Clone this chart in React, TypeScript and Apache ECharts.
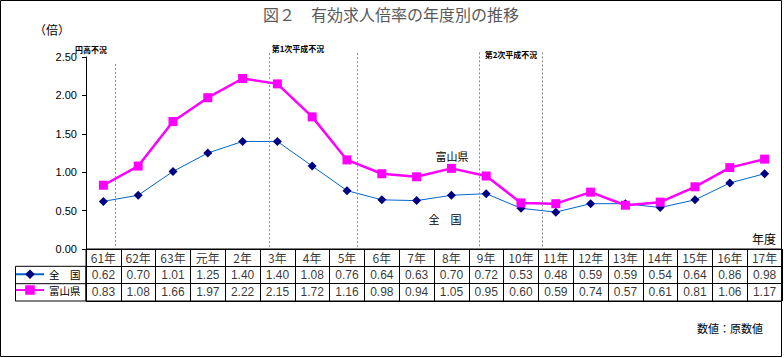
import React, { useEffect, useRef } from 'react';
import * as echarts from 'echarts';

const categories = ['61年', '62年', '63年', '元年', '2年', '3年', '4年', '5年', '6年', '7年', '8年', '9年', '10年', '11年', '12年', '13年', '14年', '15年', '16年', '17年'];
const zenkoku = [0.62, 0.70, 1.01, 1.25, 1.40, 1.40, 1.08, 0.76, 0.64, 0.63, 0.70, 0.72, 0.53, 0.48, 0.59, 0.59, 0.54, 0.64, 0.86, 0.98];
const toyama = [0.83, 1.08, 1.66, 1.97, 2.22, 2.15, 1.72, 1.16, 0.98, 0.94, 1.05, 0.95, 0.60, 0.59, 0.74, 0.57, 0.61, 0.81, 1.06, 1.17];
const seriesNames = ['全　国', '富山県'];
const yMin = 0;
const yMax = 2.5;
const yInterval = 0.5;
// recession boundary positions (in category units from the left edge) and their top values
const recessionX = [0.83, 5.27, 7.79, 11.29, 13.1];
const recessionTop = [2.41, 2.55, 2.55, 2.56, 2.56];
const recessionLabels = ['円高不況', '第1次平成不況', '第2次平成不況'];

const JP = '"Noto Sans CJK JP", sans-serif';
const NUM = '"Liberation Sans", Arial, sans-serif';

export default function App() {
  const ref = useRef<HTMLDivElement>(null);
  useEffect(() => {
    if (!ref.current) return;
    const chart = echarts.init(ref.current, null, { renderer: 'svg' });
    const tableData: any[] = [];
    categories.forEach((c, i) => {
      tableData.push({ value: [i, 0], t: c, label: { fontFamily: JP, fontSize: 12 } });
      tableData.push({ value: [i, 1], t: zenkoku[i].toFixed(2) });
      tableData.push({ value: [i, 2], t: toyama[i].toFixed(2) });
    });
    const option: any = {
      animation: false,
      backgroundColor: '#fff',
      grid: [
        { left: 86, right: 2, top: 57, bottom: 109 },
        { left: 86, right: 2, top: 249, bottom: 57, show: true, borderColor: '#000', borderWidth: 1, backgroundColor: 'transparent' },
        { left: 86, right: 2, top: 52, bottom: 109 },
      ],
      xAxis: [
        {
          type: 'category', gridIndex: 0, data: categories, boundaryGap: true,
          axisLine: { show: true, lineStyle: { color: '#000', width: 1 } },
          axisTick: { show: false }, axisLabel: { show: false }, splitLine: { show: false },
        },
        {
          type: 'category', gridIndex: 1, data: categories, boundaryGap: true, position: 'top',
          axisLine: { show: false },
          axisTick: { show: true, inside: true, length: 52, interval: 0, lineStyle: { color: '#000', width: 1 } },
          axisLabel: { show: false },
          splitLine: { show: false },
        },
        { type: 'value', gridIndex: 2, min: 0, max: categories.length, show: false, splitLine: { show: false } },
      ],
      yAxis: [
        {
          type: 'value', gridIndex: 0, min: yMin, max: yMax, interval: yInterval,
          axisLine: { show: true, lineStyle: { color: '#000', width: 1 } },
          axisTick: { show: true, length: 4, lineStyle: { color: '#000' } },
          axisLabel: { color: '#000', fontSize: 11, fontFamily: NUM, margin: 9, formatter: (v: number) => v.toFixed(2) },
          splitLine: { show: false },
        },
        {
          type: 'category', gridIndex: 1, data: ['h', 'a', 'b'], inverse: true,
          axisLine: { show: false }, axisTick: { show: false }, axisLabel: { show: false },
          splitLine: { show: true, interval: 0, lineStyle: { color: '#000', width: 1 } },
        },
        { type: 'value', gridIndex: 2, min: 0, max: 2.565, show: false, splitLine: { show: false } },
      ],
      legend: {
        orient: 'vertical', left: 15, top: 269, padding: 0, itemWidth: 28, itemHeight: 12, itemGap: 5.3,
        data: seriesNames,
        textStyle: { fontSize: 10.5, fontFamily: JP, color: '#000' },
      },
      series: [
        {
          name: seriesNames[0], type: 'line', xAxisIndex: 0, yAxisIndex: 0, data: zenkoku,
          symbol: 'diamond', symbolSize: 9, itemStyle: { color: '#000080' },
          lineStyle: { color: '#0066CC', width: 1 },
        },
        {
          name: seriesNames[1], type: 'line', xAxisIndex: 0, yAxisIndex: 0, data: toyama,
          symbol: 'rect', symbolSize: 9, itemStyle: { color: '#FF00FF' },
          lineStyle: { color: '#FF00FF', width: 2.5 },
        },
        {
          type: 'line', xAxisIndex: 2, yAxisIndex: 2, data: [], silent: true, clip: false,
          markLine: {
            silent: true, symbol: 'none', animation: false,
            lineStyle: { color: '#888', type: [2, 2], width: 1 },
            label: { show: false },
            data: recessionX.map((x, i) => [{ xAxis: x, yAxis: recessionTop[i] }, { xAxis: x, yAxis: 0 }]),
          },
        },
        {
          type: 'scatter', xAxisIndex: 1, yAxisIndex: 1, symbolSize: 0, silent: true,
          data: tableData,
          label: {
            show: true, position: 'inside', color: '#000', fontSize: 12, fontFamily: NUM,
            formatter: (p: any) => p.data.t,
          },
        },
      ],
      graphic: [
        { type: 'rect', shape: { x: 0.5, y: 0.5, width: 781, height: 356 }, style: { fill: 'none', stroke: '#000', lineWidth: 1 }, silent: true },
        { type: 'rect', shape: { x: 15.5, y: 266.3, width: 70.5, height: 34.7 }, style: { fill: 'none', stroke: '#000', lineWidth: 1 }, silent: true },
        { type: 'line', shape: { x1: 15.5, y1: 283.7, x2: 86, y2: 283.7 }, style: { stroke: '#000', lineWidth: 1 }, silent: true },
        { type: 'text', x: 391, y: 14, style: { text: '図２　有効求人倍率の年度別の推移', font: `16px ${JP}`, fill: '#595959', textAlign: 'center', textVerticalAlign: 'middle' } },
        { type: 'text', x: 52, y: 29, style: { text: '（倍）', font: `12px ${JP}`, fill: '#000', textAlign: 'center', textVerticalAlign: 'middle' } },
        { type: 'text', x: 91, y: 49, style: { text: recessionLabels[0], font: `bold 8px ${JP}`, fill: '#000', textAlign: 'center', textVerticalAlign: 'middle' } },
        { type: 'text', x: 298, y: 48, style: { text: recessionLabels[1], font: `bold 8px ${JP}`, fill: '#000', textAlign: 'center', textVerticalAlign: 'middle' } },
        { type: 'text', x: 511, y: 54, style: { text: recessionLabels[2], font: `bold 8px ${JP}`, fill: '#000', textAlign: 'center', textVerticalAlign: 'middle' } },
        { type: 'text', x: 452, y: 156, style: { text: '富山県', font: `11px ${JP}`, fill: '#000', textAlign: 'center', textVerticalAlign: 'middle' } },
        { type: 'text', x: 445, y: 219, style: { text: '全　国', font: `11px ${JP}`, fill: '#000', textAlign: 'center', textVerticalAlign: 'middle' } },
        { type: 'text', x: 764, y: 238, style: { text: '年度', font: `12px ${JP}`, fill: '#000', textAlign: 'center', textVerticalAlign: 'middle' } },
        { type: 'text', x: 730, y: 328, style: { text: '数値：原数値', font: `11px ${JP}`, fill: '#000', textAlign: 'center', textVerticalAlign: 'middle' } },
      ],
    };
    chart.setOption(option);
    return () => chart.dispose();
  }, []);
  return <div ref={ref} style={{ position: 'fixed', left: 0, top: 0, width: 784, height: 358 }} />;
}
